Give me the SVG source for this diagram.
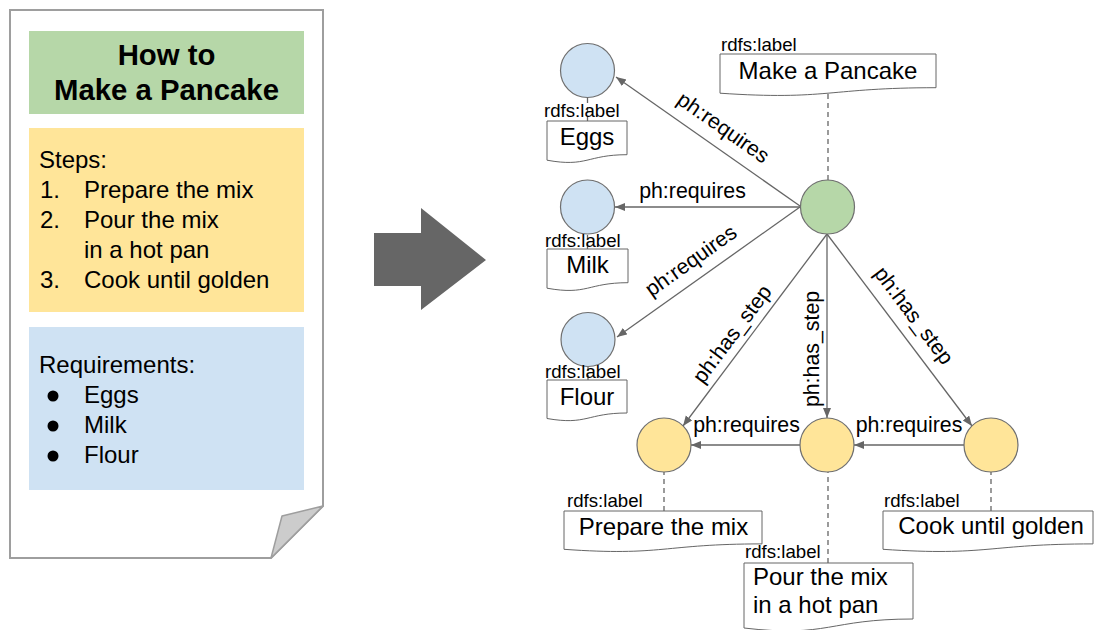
<svg xmlns="http://www.w3.org/2000/svg" width="1098" height="630" viewBox="0 0 1098 630">
  <defs>
    <style>
      text { font-family: "Liberation Sans", Arial, sans-serif; fill: #000; }
      .title { font-size: 29.33px; font-weight: bold; text-anchor: middle; }
      .body { font-size: 24px; }
      .mid { text-anchor: middle; }
      .edge-label { font-size: 21.33px; text-anchor: middle; }
      .rdfs { font-size: 18.67px; }
      .page { fill: #fff; stroke: #9e9e9e; stroke-width: 2; }
      .fold { fill: #ccc; stroke: #9e9e9e; stroke-width: 1.5; stroke-linejoin: round; }
      .node { stroke: #6f6f6f; stroke-width: 1.2; }
      .ingredient { fill: #cfe2f3; }
      .recipe { fill: #b6d7a8; }
      .step { fill: #ffe599; }
      .doc { fill: #fff; stroke: #666; stroke-width: 1; }
      .edge { stroke: #666; stroke-width: 1.3; fill: none; marker-end: url(#head); }
      .label-link { stroke: #666; stroke-width: 1.3; stroke-dasharray: 5 4; fill: none; }
    </style>
    <marker id="head" markerUnits="userSpaceOnUse" markerWidth="11" markerHeight="9" refX="10" refY="4" orient="auto">
      <path d="M0,0 L10,4 L0,8 Z" fill="#666"/>
    </marker>
  </defs>

  <!-- recipe sheet -->
  <g id="recipe-sheet">
    <path class="page" d="M10,10 H323 V506 L271,558 H10 Z"/>
    <path class="fold" d="M323,506 L282,516 L271,558 Z"/>
    <rect x="29" y="31" width="275" height="83" fill="#b6d7a8"/>
    <text class="title" x="166.5" y="65">How to</text>
    <text class="title" x="166.5" y="100">Make a Pancake</text>
    <rect x="29" y="128" width="275" height="184" fill="#ffe599"/>
    <text class="body" x="39" y="168">Steps:</text>
    <text class="body" x="40" y="198">1.</text>
    <text class="body" x="84" y="198">Prepare the mix</text>
    <text class="body" x="40" y="228">2.</text>
    <text class="body" x="84" y="228">Pour the mix</text>
    <text class="body" x="84" y="258">in a hot pan</text>
    <text class="body" x="40" y="288">3.</text>
    <text class="body" x="84" y="288">Cook until golden</text>
    <rect x="29" y="327" width="275" height="163" fill="#cfe2f3"/>
    <text class="body" x="39" y="373">Requirements:</text>
    <circle cx="53" cy="396" r="5.5" fill="#000"/>
    <text class="body" x="84" y="403">Eggs</text>
    <circle cx="53" cy="426" r="5.5" fill="#000"/>
    <text class="body" x="84" y="433">Milk</text>
    <circle cx="53" cy="456" r="5.5" fill="#000"/>
    <text class="body" x="84" y="463">Flour</text>
  </g>

  <!-- conversion arrow -->
  <g id="convert-arrow">
    <path d="M374,233 H421 V208 L486,260 L421,310 V286 H374 Z" fill="#666"/>
  </g>

  <!-- connectors -->
  <g id="connectors">
    <line class="edge" x1="800" y1="206" x2="616" y2="77"/>
    <line class="edge" x1="800" y1="207" x2="615" y2="207"/>
    <line class="edge" x1="800" y1="207" x2="617" y2="337"/>
    <line class="edge" x1="827" y1="234" x2="683" y2="426"/>
    <line class="edge" x1="827" y1="234" x2="827" y2="418"/>
    <line class="edge" x1="827" y1="234" x2="972" y2="426"/>
    <line class="edge" x1="800" y1="445" x2="691" y2="445"/>
    <line class="edge" x1="964" y1="445" x2="854" y2="445"/>

    <text class="edge-label" transform="translate(719.3,133.4) rotate(35)">ph:requires</text>
    <text class="edge-label" x="692.5" y="198">ph:requires</text>
    <text class="edge-label" transform="translate(695,266.4) rotate(-35.4)">ph:requires</text>
    <text class="edge-label" transform="translate(737.8,338.2) rotate(-53.1)">ph:has_step</text>
    <text class="edge-label" transform="translate(819,349) rotate(-90)">ph:has_step</text>
    <text class="edge-label" transform="translate(908.2,319.8) rotate(53)">ph:has_step</text>
    <text class="edge-label" x="746.5" y="432">ph:requires</text>
    <text class="edge-label" x="909" y="432">ph:requires</text>

    <!-- rdfs:label links, drawn from the label box up to the node -->
    <line class="label-link" x1="828" y1="180" x2="828" y2="93"/>
    <line class="label-link" x1="587.5" y1="121" x2="587.5" y2="97"/>
    <line class="label-link" x1="587.5" y1="249" x2="587.5" y2="234"/>
    <line class="label-link" x1="588" y1="380" x2="588" y2="367"/>
    <line class="label-link" x1="664" y1="511" x2="664" y2="472"/>
    <line class="label-link" x1="828" y1="563" x2="828" y2="472"/>
    <line class="label-link" x1="991" y1="511" x2="991" y2="472"/>
  </g>

  <!-- recipe node -->
  <g id="node-pancake">
    <circle class="node recipe" cx="827.5" cy="207" r="27"/>
    <path class="doc" d="M720,54 H936 V87.7 C828,87.7 828,100.5 720,93.2 Z"/>
    <text class="rdfs" x="721" y="51">rdfs:label</text>
    <text class="body mid" x="828" y="79">Make a Pancake</text>
  </g>

  <!-- ingredient nodes -->
  <g id="node-eggs">
    <circle class="node ingredient" cx="587.5" cy="70.5" r="27"/>
    <path class="doc" d="M547,121 H627 V154.7 C587,154.7 587,167.5 547,160.2 Z"/>
    <text class="rdfs" x="544" y="117">rdfs:label</text>
    <text class="body mid" x="587" y="145">Eggs</text>
  </g>
  <g id="node-milk">
    <circle class="node ingredient" cx="587.5" cy="207" r="27"/>
    <path class="doc" d="M547,249 H628 V282.7 C587.5,282.7 587.5,295.5 547,288.2 Z"/>
    <text class="rdfs" x="545" y="247">rdfs:label</text>
    <text class="body mid" x="587.5" y="273">Milk</text>
  </g>
  <g id="node-flour">
    <circle class="node ingredient" cx="588" cy="339.5" r="27"/>
    <path class="doc" d="M547,380 H627 V413 C587,413 587,425.5 547,418.5 Z"/>
    <text class="rdfs" x="545" y="378">rdfs:label</text>
    <text class="body mid" x="587" y="405">Flour</text>
  </g>

  <!-- step nodes -->
  <g id="node-prepare">
    <circle class="node step" cx="664" cy="445" r="27"/>
    <path class="doc" d="M564,511 H762 V543.9 C663,543.9 663,556.4 564,549.3 Z"/>
    <text class="rdfs" x="567" y="507">rdfs:label</text>
    <text class="body mid" x="663.5" y="535">Prepare the mix</text>
  </g>
  <g id="node-pour">
    <circle class="node step" cx="827" cy="445" r="27"/>
    <path class="doc" d="M744,563 H913 V619 C828.5,619 828.5,638 744,628 Z"/>
    <text class="rdfs" x="745" y="558">rdfs:label</text>
    <text class="body" x="753" y="585">Pour the mix</text>
    <text class="body" x="753" y="613">in a hot pan</text>
  </g>
  <g id="node-cook">
    <circle class="node step" cx="991" cy="445" r="27"/>
    <path class="doc" d="M883,511 H1093 V543.9 C988,543.9 988,556.4 883,549.3 Z"/>
    <text class="rdfs" x="884" y="507">rdfs:label</text>
    <text class="body mid" x="991" y="534">Cook until golden</text>
  </g>
</svg>
